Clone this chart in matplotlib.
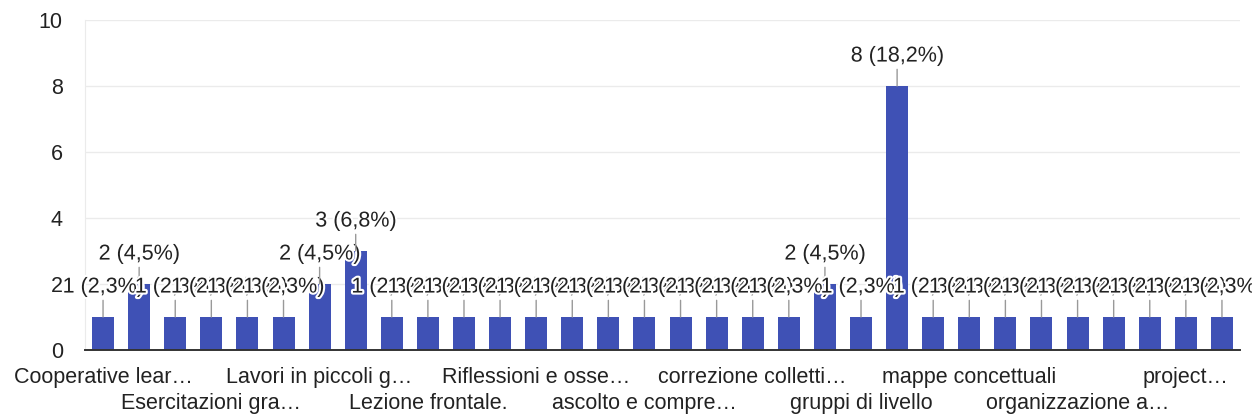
import matplotlib
matplotlib.use("Agg")
import matplotlib.pyplot as plt
import matplotlib.patheffects as pe

plt.rcParams['font.family'] = ['Liberation Sans', 'DejaVu Sans']

# 32 response options (only every third label is visible in the chart)
categories = [
    "Cooperative lear…", "", "", "Esercitazioni gra…", "", "", "Lavori in piccoli g…", "", "",
    "Lezione frontale.", "", "", "Riflessioni e osse…", "", "", "ascolto e compre…", "", "",
    "correzione colletti…", "", "", "gruppi di livello", "", "", "mappe concettuali", "", "",
    "organizzazione a…", "", "", "project…", "",
]
counts = [1, 2, 1, 1, 1, 1, 2, 3, 1, 1, 1, 1, 1, 1, 1, 1, 1, 1, 1, 1, 2, 1, 8,
          1, 1, 1, 1, 1, 1, 1, 1, 1]
percents = ["2,3", "4,5", "2,3", "2,3", "2,3", "2,3", "4,5", "6,8", "2,3", "2,3", "2,3",
            "2,3", "2,3", "2,3", "2,3", "2,3", "2,3", "2,3", "2,3", "2,3", "4,5", "2,3",
            "18,2", "2,3", "2,3", "2,3", "2,3", "2,3", "2,3", "2,3", "2,3", "2,3"]
yticks = [0, 2, 4, 6, 8, 10]

FS = 15.5
fig = plt.figure(figsize=(12.52, 4.19), dpi=100)
ax = fig.add_axes([85 / 1252, 69 / 419, 1155 / 1252, 330 / 419])

x = list(range(len(counts)))
ax.bar(x, counts, width=0.61, color="#3f51b5", zorder=2)

ax.set_xlim(-0.5, len(counts) - 0.5)
ax.set_ylim(0, 10)
ax.set_yticks(yticks)
ax.set_yticklabels([str(v) for v in yticks], fontsize=FS, color="#222222")
ax.grid(axis="y", color="#ebebeb", linewidth=1, zorder=0)
ax.tick_params(axis="y", length=0, pad=16)

# x labels: visible every third bar, staggered on two rows
pos = [i for i, c in enumerate(categories) if c]
labs = []
for k, i in enumerate(pos):
    labs.append(categories[i] if k % 2 == 0 else "\n" + categories[i])
ax.set_xticks(pos)
ax.set_xticklabels(labs, fontsize=FS, color="#222222", linespacing=1.35, va="top")
ax.tick_params(axis="x", length=0, pad=12)

for s in ["top", "right"]:
    ax.spines[s].set_visible(False)
ax.spines["left"].set_color("#ebebeb")
ax.spines["bottom"].set_color("#333333")
ax.spines["bottom"].set_linewidth(1.4)
ax.spines["bottom"].set_zorder(3)

for i, (c, p) in enumerate(zip(counts, percents)):
    ax.annotate(f"{c} ({p}%)", xy=(i, c), xytext=(0, 14), textcoords="offset points",
                ha="center", va="bottom", fontsize=FS, color="#222222", zorder=4,
                arrowprops=dict(arrowstyle="-", color="#999999", lw=1,
                                shrinkA=0, shrinkB=0),
                path_effects=[pe.withStroke(linewidth=3, foreground="white")])

fig.savefig("out.png", dpi=100)
